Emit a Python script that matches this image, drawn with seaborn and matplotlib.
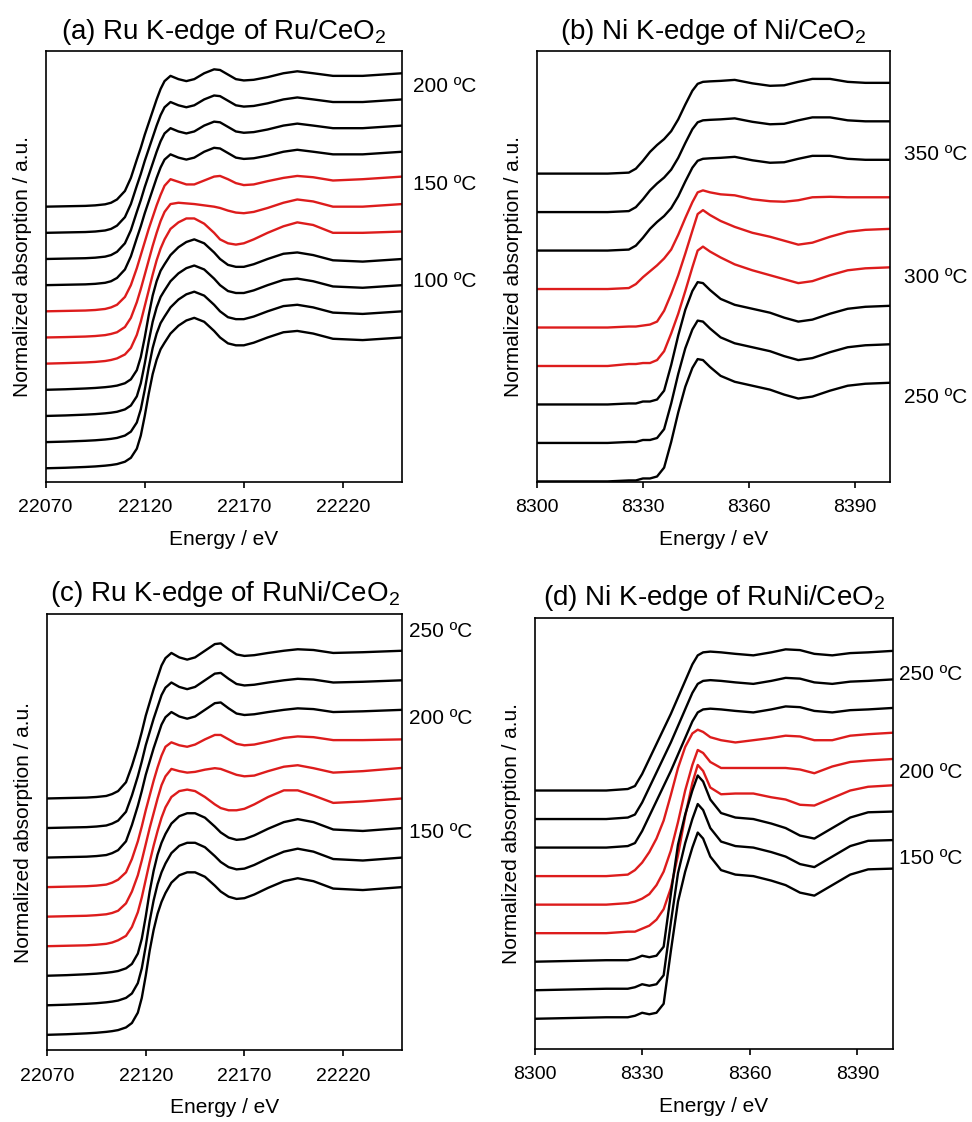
import numpy as np
import pandas as pd
import matplotlib
matplotlib.use('Agg')
import matplotlib.pyplot as plt
import seaborn as sns

# energy grids (eV)
ru_energy = [22070, 22080, 22090, 22095, 22100, 22103, 22106, 22110, 22113, 22116,
             22118, 22120, 22122, 22124, 22126, 22128, 22130, 22133, 22137, 22141,
             22145, 22150, 22155, 22158, 22162, 22166, 22170, 22175, 22182, 22190,
             22197, 22205, 22215, 22230, 22250]
ni_energy = [8300, 8320, 8326, 8328, 8330, 8332, 8334, 8336, 8338, 8340, 8342, 8344,
             8345.5, 8347, 8349, 8352, 8356, 8361, 8366, 8370, 8374, 8378, 8383,
             8388, 8393, 8400]

# (a) Ru K-edge of Ru/CeO2, normalized absorption
a_metal = [0, 0.003, 0.006, 0.01, 0.018, 0.03, 0.055, 0.12, 0.22, 0.36, 0.45, 0.55,
           0.64, 0.73, 0.82, 0.90, 0.96, 1.00, 0.975, 0.96, 0.975, 1.02, 1.05, 1.045,
           1.01, 0.975, 0.965, 0.97, 0.99, 1.02, 1.035, 1.02, 1.0, 1.0, 1.02]
a_red1 = [0, 0.003, 0.006, 0.01, 0.018, 0.03, 0.05, 0.11, 0.20, 0.33, 0.43, 0.53,
          0.63, 0.72, 0.81, 0.89, 0.96, 1.01, 0.99, 0.97, 0.97, 1.0, 1.03, 1.035,
          1.01, 0.98, 0.965, 0.97, 0.995, 1.02, 1.035, 1.025, 1.0, 1.01, 1.03]
a_red2 = [0, 0.003, 0.007, 0.011, 0.018, 0.027, 0.04, 0.08, 0.15, 0.27, 0.37, 0.48,
          0.59, 0.70, 0.80, 0.89, 0.96, 1.02, 1.03, 1.025, 1.02, 1.01, 1.0, 0.99,
          0.97, 0.955, 0.95, 0.96, 0.99, 1.03, 1.055, 1.04, 1.0, 1.0, 1.02]
a_red3 = [0, 0.004, 0.009, 0.013, 0.02, 0.028, 0.04, 0.07, 0.12, 0.22, 0.32, 0.44,
          0.56, 0.68, 0.79, 0.88, 0.95, 1.03, 1.08, 1.11, 1.11, 1.07, 1.0, 0.95,
          0.92, 0.91, 0.92, 0.95, 1.0, 1.05, 1.08, 1.06, 1.0, 1.0, 1.01]
a_oxide = [0, 0.004, 0.01, 0.014, 0.02, 0.025, 0.032, 0.05, 0.08, 0.15, 0.25, 0.40,
           0.57, 0.72, 0.83, 0.91, 0.96, 1.03, 1.09, 1.13, 1.15, 1.12, 1.05, 1.0,
           0.955, 0.94, 0.94, 0.96, 1.0, 1.04, 1.05, 1.03, 0.99, 0.98, 1.0]

# (c) Ru K-edge of RuNi/CeO2
c_metal = [0, 0.003, 0.006, 0.01, 0.017, 0.03, 0.05, 0.11, 0.22, 0.35, 0.45, 0.56,
           0.65, 0.74, 0.82, 0.90, 0.95, 0.985, 0.955, 0.94, 0.955, 1.0, 1.045, 1.05,
           1.01, 0.975, 0.965, 0.97, 0.985, 1.0, 1.01, 1.005, 0.985, 0.99, 1.0]
c_red1 = [0, 0.003, 0.006, 0.01, 0.017, 0.03, 0.05, 0.10, 0.19, 0.31, 0.41, 0.52,
          0.62, 0.72, 0.81, 0.89, 0.95, 0.98, 0.96, 0.95, 0.965, 1.0, 1.03, 1.03,
          1.0, 0.97, 0.96, 0.965, 0.985, 1.01, 1.02, 1.015, 0.995, 0.995, 1.0]
c_red2 = [0, 0.003, 0.006, 0.01, 0.016, 0.025, 0.04, 0.09, 0.17, 0.28, 0.38, 0.49,
          0.60, 0.70, 0.80, 0.89, 0.95, 1.0, 0.985, 0.975, 0.98, 0.995, 1.005, 1.0,
          0.98, 0.96, 0.95, 0.955, 0.985, 1.015, 1.025, 1.005, 0.975, 0.985, 1.007]
c_red3 = [0, 0.003, 0.006, 0.01, 0.016, 0.025, 0.04, 0.07, 0.13, 0.23, 0.33, 0.45,
          0.57, 0.68, 0.78, 0.87, 0.94, 1.01, 1.05, 1.06, 1.05, 1.01, 0.96, 0.935,
          0.92, 0.92, 0.93, 0.96, 1.01, 1.055, 1.055, 1.02, 0.97, 0.98, 1.0]
c_oxide = [0, 0.004, 0.01, 0.014, 0.02, 0.025, 0.032, 0.05, 0.08, 0.15, 0.25, 0.40,
           0.57, 0.71, 0.82, 0.90, 0.96, 1.03, 1.08, 1.10, 1.10, 1.07, 1.01, 0.97,
           0.935, 0.92, 0.925, 0.95, 0.995, 1.04, 1.06, 1.04, 0.99, 0.98, 1.0]

# (b) Ni K-edge of Ni/CeO2
b_metal = [0, 0, 0.01, 0.05, 0.13, 0.22, 0.29, 0.35, 0.43, 0.55, 0.70, 0.84, 0.91, 0.93,
           0.935, 0.94, 0.95, 0.915, 0.89, 0.895, 0.93, 0.96, 0.96, 0.93, 0.92, 0.92]
b_red1 = [0, 0, 0.01, 0.05, 0.12, 0.18, 0.24, 0.31, 0.40, 0.55, 0.72, 0.88, 0.98, 1.0,
          0.98, 0.96, 0.95, 0.91, 0.89, 0.885, 0.90, 0.93, 0.935, 0.93, 0.93, 0.93]
b_red2 = [0, 0, 0.01, 0.01, 0.02, 0.03, 0.06, 0.17, 0.34, 0.53, 0.75, 0.98, 1.15, 1.19,
          1.14, 1.08, 1.02, 0.96, 0.92, 0.88, 0.84, 0.86, 0.92, 0.97, 0.99, 1.0]
b_red3 = [0, 0, 0.02, 0.02, 0.03, 0.03, 0.06, 0.15, 0.33, 0.53, 0.76, 1.0, 1.17, 1.21,
          1.16, 1.10, 1.03, 0.97, 0.92, 0.88, 0.84, 0.86, 0.92, 0.97, 0.99, 1.0]
b_oxide = [0, 0, 0.01, 0.01, 0.03, 0.03, 0.05, 0.14, 0.40, 0.70, 0.96, 1.15, 1.24, 1.23,
           1.16, 1.07, 1.01, 0.97, 0.93, 0.88, 0.84, 0.86, 0.92, 0.97, 0.99, 1.0]

# (d) Ni K-edge of RuNi/CeO2
d_metal = [0, 0, 0.01, 0.03, 0.11, 0.21, 0.31, 0.41, 0.51, 0.62, 0.73, 0.84, 0.90, 0.92,
           0.925, 0.92, 0.91, 0.90, 0.92, 0.94, 0.935, 0.91, 0.90, 0.915, 0.92, 0.93]
d_red1 = [0, 0, 0.01, 0.04, 0.09, 0.16, 0.25, 0.37, 0.54, 0.72, 0.86, 0.95, 0.975, 0.96,
          0.925, 0.905, 0.89, 0.905, 0.92, 0.935, 0.93, 0.905, 0.905, 0.935, 0.945, 0.955]
d_red2 = [0, 0, 0.01, 0.02, 0.04, 0.07, 0.13, 0.22, 0.36, 0.55, 0.76, 0.93, 1.03, 1.01,
          0.95, 0.91, 0.91, 0.91, 0.91, 0.91, 0.90, 0.875, 0.92, 0.95, 0.96, 0.97]
d_red3 = [0, 0, 0.01, 0.01, 0.03, 0.05, 0.09, 0.16, 0.30, 0.52, 0.78, 1.0, 1.12, 1.08,
          0.97, 0.925, 0.93, 0.93, 0.905, 0.89, 0.855, 0.85, 0.90, 0.95, 0.975, 0.985]
d_oxide = [0, 0.01, 0.01, 0.02, 0.04, 0.03, 0.04, 0.10, 0.45, 0.78, 0.98, 1.14, 1.24,
           1.20, 1.08, 0.99, 0.96, 0.95, 0.92, 0.89, 0.84, 0.82, 0.89, 0.96, 0.995, 1.0]

BLACK = 'black'
RED = '#dd1c1c'

# curves from top to bottom
a_stack = [(a_metal, BLACK)] * 4 + [(a_red1, RED), (a_red2, RED), (a_red3, RED)] + [(a_oxide, BLACK)] * 4
b_stack = [(b_metal, BLACK)] * 3 + [(b_red1, RED), (b_red2, RED), (b_red3, RED)] + [(b_oxide, BLACK)] * 3
c_stack = [(c_metal, BLACK)] * 3 + [(c_red1, RED), (c_red2, RED), (c_red3, RED)] + [(c_oxide, BLACK)] * 3
d_stack = [(d_metal, BLACK)] * 3 + [(d_red1, RED), (d_red2, RED), (d_red3, RED)] + [(d_oxide, BLACK)] * 3

ru_ticks = [22070, 22120, 22170, 22220]
ni_ticks = [8300, 8330, 8360, 8390]

a_temps = ['200 ºC', '150 ºC', '100 ºC']
b_temps = ['350 ºC', '300 ºC', '250 ºC']
c_temps = ['250 ºC', '200 ºC', '150 ºC']
d_temps = ['250 ºC', '200 ºC', '150 ºC']

panels = [
    dict(rect=[0.0470, 0.5704, 0.3669, 0.3839], energy=ru_energy, stack=a_stack, step=0.2,
         xlim=(22070, 22250), ylim=(-0.105, 3.188), ticks=ru_ticks,
         title=r'(a) Ru K-edge of Ru/CeO$_\mathregular{2}$',
         temps=a_temps, tx=1.031, ty=[0.919, 0.690, 0.466]),
    dict(rect=[0.5525, 0.5704, 0.3632, 0.3839], energy=ni_energy, stack=b_stack, step=0.39,
         xlim=(8300, 8400), ylim=(-0.006, 4.36), ticks=ni_ticks,
         title=r'(b) Ni K-edge of Ni/CeO$_\mathregular{2}$',
         temps=b_temps, tx=1.04, ty=[0.760, 0.474, 0.197]),
    dict(rect=[0.0484, 0.0640, 0.3655, 0.3888], energy=ru_energy, stack=c_stack, step=0.2,
         xlim=(22070, 22250), ylim=(-0.104, 2.849), ticks=ru_ticks,
         title=r'(c) Ru K-edge of RuNi/CeO$_\mathregular{2}$',
         temps=c_temps, tx=1.019, ty=[0.960, 0.760, 0.4995]),
    dict(rect=[0.5499, 0.0655, 0.3691, 0.3840], energy=ni_energy, stack=d_stack, step=0.19,
         xlim=(8300, 8400), ylim=(-0.198, 2.671), ticks=ni_ticks,
         title=r'(d) Ni K-edge of RuNi/CeO$_\mathregular{2}$',
         temps=d_temps, tx=1.016, ty=[0.869, 0.641, 0.441]),
]

sns.set_style('ticks')
plt.rcParams['font.family'] = ['Liberation Sans', 'DejaVu Sans']
plt.rcParams['mathtext.fontset'] = 'custom'
plt.rcParams['mathtext.rm'] = 'Liberation Sans'
plt.rcParams['axes.linewidth'] = 1.2
plt.rcParams['text.color'] = 'black'
plt.rcParams['axes.labelcolor'] = 'black'
plt.rcParams['xtick.color'] = 'black'
plt.rcParams['axes.titlecolor'] = 'black'


def draw_panel(fig, p):
    ax = fig.add_axes(p['rect'])
    n = len(p['stack'])
    rows = []
    palette = {}
    for i, (shape, color) in enumerate(p['stack']):
        offset = (n - 1 - i) * p['step']
        name = f'curve{i}'
        palette[name] = color
        for e, v in zip(p['energy'], shape):
            rows.append({'energy': e, 'signal': v + offset, 'curve': name})
    df = pd.DataFrame(rows)
    sns.lineplot(data=df, x='energy', y='signal', hue='curve', palette=palette,
                 legend=False, ax=ax, linewidth=1.7)
    for line in ax.get_lines():
        line.set_solid_joinstyle('round')

    ax.set_xlim(*p['xlim'])
    ax.set_ylim(*p['ylim'])
    ax.set_xticks(p['ticks'])
    ax.set_yticks([])
    ax.tick_params(axis='x', direction='out', length=4, width=1.2, labelsize=14,
                   pad=8.5, colors='black')
    for sp in ax.spines.values():
        sp.set_color('black')
        sp.set_linewidth(1.2)
    ax.set_xlabel('Energy / eV', fontsize=15, labelpad=10)
    ax.set_ylabel('Normalized absorption / a.u.', fontsize=15, labelpad=10)
    ax.set_title(p['title'], fontsize=20, pad=9)
    for label, y in zip(p['temps'], p['ty']):
        ax.text(p['tx'], y, label, transform=ax.transAxes, fontsize=15,
                ha='left', va='center')
    return ax


fig = plt.figure(figsize=(9.72, 11.22), dpi=100)
for p in panels:
    draw_panel(fig, p)

fig.savefig('out.png', dpi=100)
